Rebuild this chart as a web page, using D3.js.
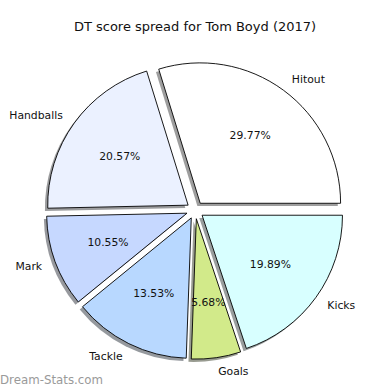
<!DOCTYPE html>
<html>
<head>
<meta charset="utf-8">
<script src="https://cdn.jsdelivr.net/npm/d3@7"></script>
<style>
html,body{margin:0;padding:0;background:#fff;}
svg{display:block;}
text{font-family:"DejaVu Sans",sans-serif;fill:#111;}
</style>
</head>
<body>
<svg id="chart" width="390" height="390"></svg>
<script>
const categories = ["Hitout", "Handballs", "Mark", "Tackle", "Goals", "Kicks"];
const values = [29.77, 20.57, 10.55, 13.53, 5.68, 19.89];
const colors = ["#ffffff", "#ebf1ff", "#c6d8ff", "#b8d8ff", "#d2ea8a", "#d8ffff"];
const title = "DT score spread for Tom Boyd (2017)";

const svg = d3.select("#chart");
const cx = 195.1, cy = 210.2, R = 140.4, ex = 8.6;
const shadowOff = 2.8;

// matplotlib style: start at 0 rad (east), counterclockwise
const total = d3.sum(values);
const angle = d3.scaleLinear().domain([0, total]).range([0, 2 * Math.PI]);
let cum = 0;
const slices = values.map((v, i) => {
  const a0 = angle(cum); cum += v; const a1 = angle(cum);
  return {cat: categories[i], v, color: colors[i], a0, a1, am: (a0 + a1) / 2};
});

const arc = d3.arc().innerRadius(0).outerRadius(R);
function d3Arc(s) {
  return arc({startAngle: Math.PI / 2 - s.a1, endAngle: Math.PI / 2 - s.a0});
}

const g = svg.append("g");
slices.forEach(s => {
  const x = cx + ex * Math.cos(s.am) - shadowOff;
  const y = cy - ex * Math.sin(s.am) + shadowOff;
  g.append("path")
    .attr("d", d3Arc(s))
    .attr("transform", `translate(${x},${y})`)
    .attr("fill", d3.rgb(s.color).darker(4))
    .attr("fill-opacity", 0.5)
    .attr("stroke", "none");
});
slices.forEach(s => {
  const x = cx + ex * Math.cos(s.am);
  const y = cy - ex * Math.sin(s.am);
  g.append("path")
    .attr("d", d3Arc(s))
    .attr("transform", `translate(${x},${y})`)
    .attr("fill", s.color)
    .attr("stroke", "#000")
    .attr("stroke-width", 0.9)
    .attr("stroke-linejoin", "miter");
});
slices.forEach(s => {
  const c = Math.cos(s.am), sn = Math.sin(s.am);
  const lx = cx + (ex + 1.1 * R) * c;
  const ly = cy - (ex + 1.1 * R) * sn;
  g.append("text")
    .attr("x", lx).attr("y", ly)
    .attr("dy", "0.35em")
    .attr("text-anchor", c > 0 ? "start" : "end")
    .attr("font-size", "10.8px")
    .text(s.cat);
  const px = cx + (ex + 0.6 * R) * c;
  const py = cy - (ex + 0.6 * R) * sn;
  g.append("text")
    .attr("x", px).attr("y", py)
    .attr("dy", "0.35em")
    .attr("text-anchor", "middle")
    .attr("font-size", "10.8px")
    .text(s.v.toFixed(2) + "%");
});

svg.append("text")
  .attr("x", 195).attr("y", 26)
  .attr("dy", "0.35em")
  .attr("text-anchor", "middle")
  .attr("font-size", "13px")
  .text(title);

svg.append("text")
  .attr("x", 0).attr("y", 380)
  .attr("dy", "0.35em")
  .attr("font-size", "11.8px")
  .style("fill", "#9a9a9a")
  .text("Dream-Stats.com");
</script>
</body>
</html>
